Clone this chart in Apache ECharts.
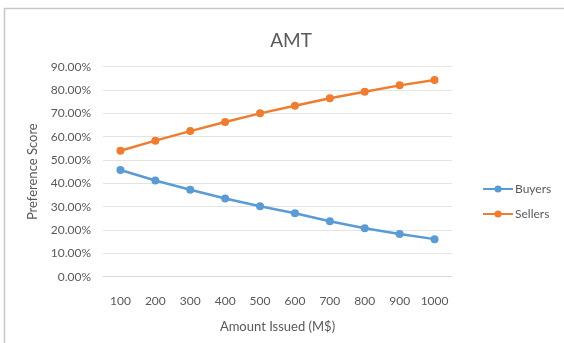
<!DOCTYPE html>
<html>
<head>
<meta charset="utf-8">
<script src="https://cdn.jsdelivr.net/npm/echarts@6/dist/echarts.min.js"></script>
<style>
html,body{margin:0;padding:0;background:#fff;}
#chart{width:564px;height:343px;}
</style>
</head>
<body>
<div id="chart"></div>
<script>
var categories = ['100','200','300','400','500','600','700','800','900','1000'];
var buyers = [45.7, 41.2, 37.3, 33.5, 30.2, 27.2, 23.8, 20.8, 18.3, 16.1];
var sellers = [54.0, 58.3, 62.4, 66.3, 70.0, 73.3, 76.5, 79.3, 82.0, 84.3];
var yTicks = [0, 10, 20, 30, 40, 50, 60, 70, 80, 90];

var font = 'Lato, "Open Sans", sans-serif';
var chart = echarts.init(document.getElementById('chart'), null, {renderer: 'canvas'});
chart.setOption({
  animation: false,
  backgroundColor: '#fff',
  textStyle: {fontFamily: font},
  title: {
    text: 'AMT', left: 286, top: 26, textAlign: 'center',
    textStyle: {fontFamily: font, fontSize: 19, fontWeight: 'normal', color: '#595959'}
  },
  graphic: [
    {type: 'line', shape: {x1: 4, y1: 8.5, x2: 564, y2: 8.5}, style: {stroke: '#c8c8c8', lineWidth: 1.5}},
    {type: 'line', shape: {x1: 4.5, y1: 8, x2: 4.5, y2: 343}, style: {stroke: '#c8c8c8', lineWidth: 1.5}}
  ],
  legend: {
    orient: 'vertical', left: 477, top: 178, itemWidth: 30, itemHeight: 9, itemGap: 13,
    textStyle: {fontFamily: font, fontSize: 12, color: '#595959', padding: [0, 0, 0, -3]},
    data: ['Buyers', 'Sellers']
  },
  grid: {left: 103, right: 112, top: 66.7, bottom: 66.3, containLabel: false},
  xAxis: {
    type: 'category', data: categories, boundaryGap: true,
    name: 'Amount Issued (M$)', nameLocation: 'middle', nameGap: 44,
    nameTextStyle: {fontFamily: font, fontSize: 13, color: '#595959'},
    axisLine: {show: true, lineStyle: {color: '#d9d9d9'}},
    axisTick: {show: false},
    axisLabel: {interval: 0, hideOverlap: false, fontFamily: font, fontSize: 12, color: '#595959', margin: 18}
  },
  yAxis: {
    type: 'value', min: 0, max: 90, interval: 10,
    name: 'Preference Score', nameLocation: 'middle', nameGap: 64, nameRotate: 90,
    nameTextStyle: {fontFamily: font, fontSize: 13, color: '#595959'},
    axisLine: {show: false}, axisTick: {show: false},
    splitLine: {lineStyle: {color: '#e3e3e3', width: 1}},
    axisLabel: {fontFamily: font, fontSize: 12, color: '#595959', margin: 12,
      formatter: function (v) { return yTicks.indexOf(v) >= 0 ? v.toFixed(2) + '%' : ''; }}
  },
  series: [
    {name: 'Buyers', type: 'line', data: buyers, symbol: 'circle', symbolSize: 8,
     itemStyle: {color: '#5B9BD5'}, lineStyle: {color: '#5B9BD5', width: 2.5}},
    {name: 'Sellers', type: 'line', data: sellers, symbol: 'circle', symbolSize: 8,
     itemStyle: {color: '#ED7D31'}, lineStyle: {color: '#ED7D31', width: 2.5}}
  ]
});
</script>
</body>
</html>
